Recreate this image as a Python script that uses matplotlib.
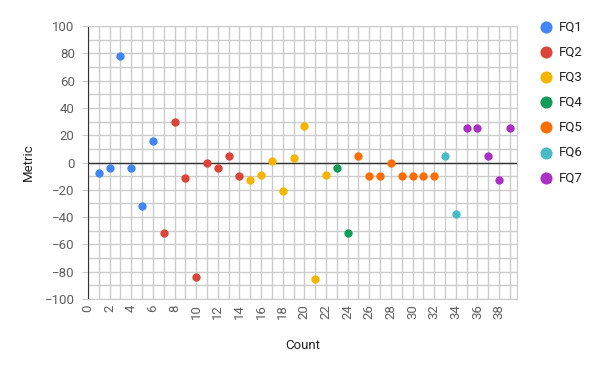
import numpy as np
import matplotlib
matplotlib.use('Agg')
import matplotlib.pyplot as plt

plt.rcParams['font.family'] = ['Roboto', 'DejaVu Sans']

series = ['FQ1', 'FQ2', 'FQ3', 'FQ4', 'FQ5', 'FQ6', 'FQ7']
colors = ['#4285F4', '#DB4437', '#F4B400', '#0F9D58', '#FF6D00', '#46BDC6', '#AB30C4']

fq1_x = [1, 2, 3, 4, 5, 6]
fq1_y = [-8, -4, 78, -4, -32, 16]
fq2_x = [7, 8, 9, 10, 11, 12, 13, 14]
fq2_y = [-52, 30, -11, -84, 0, -4, 5, -10]
fq3_x = [15, 16, 17, 18, 19, 20, 21, 22]
fq3_y = [-13, -9, 1, -21, 3, 27, -85, -9]
fq4_x = [23, 24]
fq4_y = [-4, -52]
fq5_x = [25, 26, 27, 28, 29, 30, 31, 32]
fq5_y = [5, -10, -10, 0, -10, -10, -10, -10]
fq6_x = [33, 34]
fq6_y = [5, -38]
fq7_x = [35, 36, 37, 38, 39]
fq7_y = [25, 25, 5, -13, 25]

xs = [fq1_x, fq2_x, fq3_x, fq4_x, fq5_x, fq6_x, fq7_x]
ys = [fq1_y, fq2_y, fq3_y, fq4_y, fq5_y, fq6_y, fq7_y]

fig = plt.figure(figsize=(6, 3.71), dpi=100)
ax = fig.add_axes([88 / 600, 1 - 299 / 371, (517 - 88) / 600, (299 - 26) / 371])

for name, c, x, y in zip(series, colors, xs, ys):
    ax.scatter(x, y, s=36, color=c, label=name, zorder=3, linewidths=0)

ax.set_xlim(0, 39.66)
ax.set_ylim(-100, 100)

grid_c = '#cccccc'
ax.set_xticks(np.arange(0, 40, 2))
ax.set_xticks(np.arange(1, 40, 2), minor=True)
ax.set_yticks(np.arange(-100, 101, 20))
ax.set_yticks(np.arange(-90, 100, 20), minor=True)
ax.grid(True, which='both', color=grid_c, lw=1, zorder=0)
ax.tick_params(which='both', length=0, colors='#5f5f5f', labelsize=9.5)
ax.tick_params(axis='x', labelrotation=90, pad=4)
ax.tick_params(axis='y', which='major', length=4.5, color=grid_c, pad=5)

for side in ['top', 'bottom', 'right']:
    ax.spines[side].set_color(grid_c)
ax.spines['left'].set_color('#333333')
ax.axhline(0, color='#333333', lw=1, zorder=2)

ax.set_xlabel('Count', fontsize=9.5, color='#222222', labelpad=14)
ax.set_ylabel('Metric', fontsize=9.5, color='#222222', labelpad=7)

leg = ax.legend(loc='upper left', bbox_to_anchor=(534 / 600, 1 - 15 / 371),
                bbox_transform=fig.transFigure, frameon=False, fontsize=9.5,
                markerscale=1.45, labelspacing=0.92, handletextpad=0.5,
                handlelength=1.0, borderaxespad=0)
for t in leg.get_texts():
    t.set_color('#222222')

fig.savefig('out.png', dpi=100)
